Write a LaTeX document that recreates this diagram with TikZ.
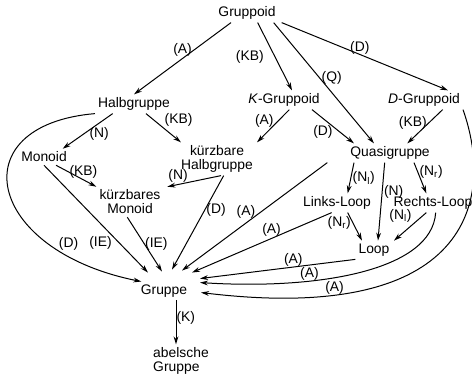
\documentclass[tikz,border=0pt]{standalone}
\usepackage{fontspec}
\setmainfont{Liberation Sans}
\usetikzlibrary{arrows.meta}
\newcommand{\Nl}{(N\textsubscript{l})}
\newcommand{\Nr}{(N\textsubscript{r})}

\begin{document}
\begin{tikzpicture}[x=0.75pt,y=0.75pt,>={Stealth[length=6pt,width=3.6pt]},line width=0.75pt,
  every node/.style={font=\fontsize{10.4}{10.5}\selectfont,inner sep=2pt},
  lab/.style={inner sep=1pt}]
\useasboundingbox (0,0) rectangle (472,-374);
%% the structures
\node (gp) at (247,-13) {Gruppoid};
\node (hg) at (134,-104) {Halbgruppe};
\node (kg) at (284,-100) {\textit{K}-Gruppoid};
\node (dg) at (424,-100) {\textit{D}-Gruppoid};
\node (mo) at (44,-157) {Monoid};
\node[align=center] (khg) at (217,-159) {kürzbare\\Halbgruppe};
\node (qg) at (390,-153) {Quasigruppe};
\node[align=center] (kmo) at (130,-202) {kürzbares\\Monoid};
\node (ll) at (337,-203) {Links-Loop};
\node (rl) at (433,-203) {Rechts-Loop};
\node (lo) at (374,-250) {Loop};
\node (gr) at (164,-291) {Gruppe};
\node[align=left] (ab) at (181,-361) {abelsche\\Gruppe};
%% from Gruppoid
\draw[->] ([xshift=-12]gp.south) -- (hg.north) node[lab,pos=.5,above] {(A)};
\draw[->] ([xshift=8]gp.south) -- ([xshift=6]kg.north) node[lab,pos=.5,left=7pt] {(KB)};
\draw[->] ([xshift=20]gp.south) -- ([xshift=-12]qg.north) node[lab,pos=.46,right] {(Q)};
\draw[->] ([xshift=26]gp.south) -- ([xshift=18]dg.north) node[lab,pos=.47,above,inner sep=0pt] {(D)};
%% Halbgruppe
\draw[->] ([xshift=-16]hg.south) -- ([xshift=14]mo.north) node[lab,pos=.27,below=2pt] {(N)};
\draw[->] ([xshift=9]hg.south) -- ([xshift=-27]khg.north) node[lab,pos=.5,above right,inner sep=.5pt] {(KB)};
\draw[->] (hg.south west) .. controls (-40,-125) and (-15,-250) .. ([xshift=-17]gr.north) node[lab,pos=.75,right=6pt] {(D)};
%% K-Gruppoid and D-Gruppoid
\draw[->] ([xshift=4]kg.south) -- ([xshift=30]khg.north) node[lab,pos=.35,left=2pt] {(A)};
\draw[->] ([xshift=21]kg.south) -- ([xshift=-27]qg.north) node[lab,pos=.26,below=4pt] {(D)};
\draw[->] ([xshift=14]dg.south) -- ([xshift=13]qg.north) node[lab,pos=.4,left] {(KB)};
\draw[->] (dg.south east) .. controls (495,-200) and (470,-325) .. ([shift={(37,-11)}]gr.north) node[lab,pos=.8,above,inner sep=0pt] {(A)};
%% Monoid and kuerzbare
\draw[->] ([xshift=9]mo.south) -- (kmo.north west) node[lab,pos=.68,above] {(KB)};
\draw[->] (mo.south) -- ([shift={(-16,9)}]gr.north) node[lab,pos=.72,left=4pt] {(IE)};
\draw[->] ([xshift=3]khg.south) -- ([xshift=28]kmo.north) node[lab,pos=.8,above] {(N)};
\draw[->] ([xshift=5]khg.south) -- ([shift={(8,12)}]gr.north) node[lab,pos=.37,right] {(D)};
\draw[->] ([xshift=-2]kmo.south) -- ([shift={(-2,10)}]gr.north) node[lab,pos=.5,right,inner sep=0pt] {(IE)};
%% Quasigruppe
\draw[->] ([xshift=-27]qg.south) -- ([xshift=8]ll.north) node[lab,pos=.5,right] {\Nl};
\draw[->] ([xshift=-4]qg.south) -- ([xshift=3]lo.north) node[lab,pos=.37,right] {(N)};
\draw[->] ([xshift=18]qg.south) -- ([xshift=-5]rl.north) node[lab,pos=.3,right] {\Nr};
\draw[->] ([xshift=-47]qg.south) -- ([shift={(18,11)}]gr.north) node[lab,pos=.56,above=2pt] {(A)};
%% the loops
\draw[->] ([xshift=8]ll.south) -- ([xshift=-9]lo.north) node[lab,pos=.35,left] {\Nr};
\draw[->] ([xshift=-4]ll.south) -- ([shift={(28,9)}]gr.north) node[lab,pos=.43,above] {(A)};
\draw[->] ([xshift=-5]rl.south) -- ([xshift=15]lo.north) node[lab,pos=.4,above left] {\Nl};
\draw[->] (lo.south west) -- ([shift={(36,3)}]gr.north) node[lab,pos=.4,above,inner sep=0pt] {(A)};
\draw[->] ([xshift=2]rl.south) .. controls (432,-270) and (320,-290) .. ([shift={(36,-1)}]gr.north) node[lab,pos=.68,above,inner sep=0pt] {(A)};
%% Gruppe
\draw[->] ([xshift=9]gr.south) -- ([xshift=9]gr.south |- ab.north) node[lab,pos=.4,right,inner sep=0pt] {(K)};
\end{tikzpicture}
\end{document}
